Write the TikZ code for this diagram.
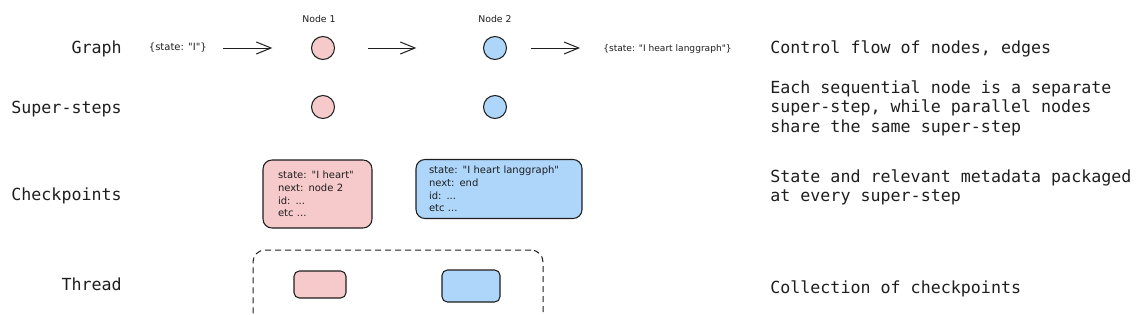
\documentclass[tikz,border=0pt]{standalone}
\usepackage{fontspec}
\setmonofont{DejaVu Sans Mono}
\newfontfamily\handfont{DejaVu Sans}
\usetikzlibrary{arrows.meta}
\definecolor{ink}{HTML}{1E1E1E}
\definecolor{pinkf}{HTML}{F6CACB}
\definecolor{bluef}{HTML}{ADD6FA}
\begin{document}
\begin{tikzpicture}[x=0.75pt,y=-0.75pt,
  rowlabel/.style={font=\ttfamily\fontsize{12.5}{14.6}\selectfont, text=ink, inner sep=0, anchor=base east},
  desc/.style={font=\ttfamily\fontsize{12.5}{14.6}\selectfont, text=ink, inner sep=0, anchor=base west, align=left},
  hand/.style={font=\handfont\fontsize{7.5}{9.5}\selectfont, text=ink, inner sep=0},
  pcirc/.style={circle, draw=ink, line width=0.8pt, fill=pinkf, minimum size=17.25pt, inner sep=0},
  bcirc/.style={circle, draw=ink, line width=0.8pt, fill=bluef, minimum size=17.25pt, inner sep=0},
  cpbox/.style={draw=ink, line width=0.8pt, rounded corners=6.75pt, align=left, inner ysep=0pt,
    font=\handfont\fontsize{7.5}{9.5}\selectfont, text=ink},
  smallbox/.style={draw=ink, line width=0.8pt, rounded corners=4pt, inner sep=0},
  arr/.style={draw=ink, line width=0.75pt, -{Straight Barb[length=11pt,width=9pt,line width=0.75pt]}}
]
\useasboundingbox (0,0) rectangle (1138,314);

% row labels
\node[rowlabel] (lgraph) at (122,53) {Graph};
\node[rowlabel] (lsuper) at (122,113) {Super-steps};
\node[rowlabel] (lcheck) at (122,200) {Checkpoints};
\node[rowlabel] (lthread) at (122,290) {Thread};

% descriptions (multi-line nodes: base = last line's baseline)
\node[desc] (dgraph) at (770,53) {Control flow of nodes, edges};
\node[desc] (dsuper) at (770,132) {Each sequential node is a separate\\super-step, while parallel nodes\\share the same super-step};
\node[desc] (dcheck) at (770,201.5) {State and relevant metadata packaged\\at every super-step};
\node[desc] (dthread) at (770,293) {Collection of checkpoints};

% graph row
\node[pcirc] (n1) at (323,48) {};
\node[bcirc] (n2) at (495,48) {};
\node[hand, font=\handfont\fontsize{7}{9}\selectfont, anchor=base] (t1) at (319,22) {Node 1};
\node[hand, font=\handfont\fontsize{7}{9}\selectfont, anchor=base] (t2) at (495,22) {Node 2};
\node[hand, anchor=base east] (s1) at (207,50) {\{state: "I"\}};
\node[hand, font=\handfont\fontsize{6.8}{9}\selectfont, anchor=base west] (s2) at (603,51) {\{state: "I heart langgraph"\}};

\draw[arr, shorten <=12pt, shorten >=29pt] (s1.east |- n1) -- (n1.west);
\draw[arr, shorten <=25pt, shorten >=50pt] (n1.east) -- (n2.west);
\draw[arr, shorten <=17.6pt, shorten >=17.25pt] (n2.east) -- (s2.west |- n2);

% super-steps row
\node[pcirc] (m1) at (323,107) {};
\node[bcirc] (m2) at (495,107) {};

% checkpoints
\node[cpbox, fill=pinkf, minimum width=81.75pt, minimum height=51pt, inner xsep=11.25pt, text width=59.25pt] (cp1) at (317.5,194)
  {state: "I heart"\\next: node 2\\id: ...\\etc ...};
\node[cpbox, fill=bluef, minimum width=124.5pt, minimum height=44.25pt, inner xsep=9.75pt, text width=105pt] (cp2) at (499,189)
  {state: "I heart langgraph"\\next: end\\id: ...\\etc ...};

% thread
\node[draw=ink, line width=0.75pt, dash pattern=on 4.5pt off 3pt, rounded corners=9pt,
  minimum width=217.5pt, minimum height=67.5pt, inner sep=0] (thread) at (398,295) {};
\node[smallbox, fill=pinkf, minimum width=39pt, minimum height=20.25pt] (th1) at (320,284.5) {};
\node[smallbox, fill=bluef, minimum width=43.5pt, minimum height=24pt] (th2) at (471,286) {};
\end{tikzpicture}
\end{document}
